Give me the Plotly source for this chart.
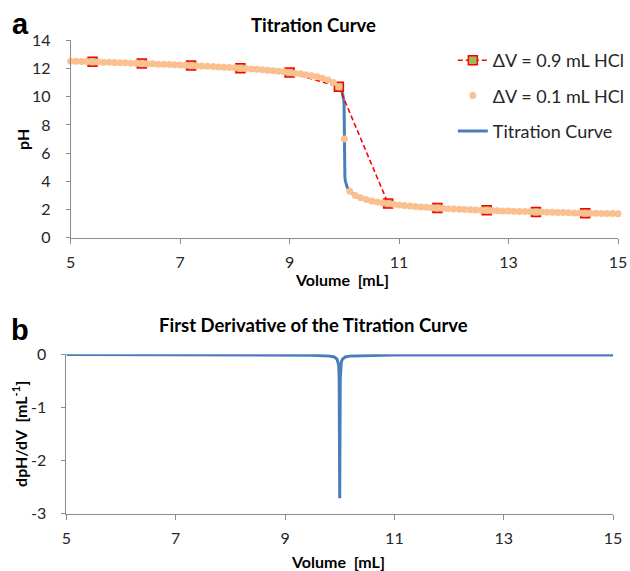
import plotly.graph_objects as go

# ---------------- data ----------------
vol_01 = [5.0, 5.1, 5.2, 5.3, 5.4, 5.5, 5.6, 5.7, 5.8, 5.9,
          6.0, 6.1, 6.2, 6.3, 6.4, 6.5, 6.6, 6.7, 6.8, 6.9,
          7.0, 7.1, 7.2, 7.3, 7.4, 7.5, 7.6, 7.7, 7.8, 7.9,
          8.0, 8.1, 8.2, 8.3, 8.4, 8.5, 8.6, 8.7, 8.8, 8.9,
          9.0, 9.1, 9.2, 9.3, 9.4, 9.5, 9.6, 9.7, 9.8, 9.9,
          10.0,
          10.1, 10.2, 10.3, 10.4, 10.5, 10.6, 10.7, 10.8, 10.9, 11.0,
          11.1, 11.2, 11.3, 11.4, 11.5, 11.6, 11.7, 11.8, 11.9, 12.0,
          12.1, 12.2, 12.3, 12.4, 12.5, 12.6, 12.7, 12.8, 12.9, 13.0,
          13.1, 13.2, 13.3, 13.4, 13.5, 13.6, 13.7, 13.8, 13.9, 14.0,
          14.1, 14.2, 14.3, 14.4, 14.5, 14.6, 14.7, 14.8, 14.9, 15.0]
ph_01 = [12.52, 12.51, 12.50, 12.49, 12.48, 12.46, 12.45, 12.44, 12.43, 12.41,
         12.40, 12.38, 12.37, 12.36, 12.34, 12.33, 12.31, 12.30, 12.28, 12.26,
         12.25, 12.23, 12.21, 12.19, 12.17, 12.16, 12.14, 12.11, 12.09, 12.07,
         12.05, 12.02, 12.00, 11.97, 11.94, 11.91, 11.88, 11.84, 11.81, 11.77,
         11.72, 11.67, 11.62, 11.56, 11.49, 11.41, 11.31, 11.18, 11.00, 10.70,
         7.00,
         3.30, 3.00, 2.83, 2.71, 2.61, 2.54, 2.47, 2.42, 2.37, 2.32,
         2.28, 2.25, 2.21, 2.18, 2.16, 2.13, 2.11, 2.08, 2.06, 2.04,
         2.02, 2.00, 1.99, 1.97, 1.95, 1.94, 1.93, 1.91, 1.90, 1.89,
         1.87, 1.86, 1.85, 1.84, 1.83, 1.82, 1.81, 1.80, 1.79, 1.78,
         1.77, 1.76, 1.75, 1.74, 1.74, 1.73, 1.72, 1.71, 1.71, 1.70]

vol_09 = [5.4, 6.3, 7.2, 8.1, 9.0, 9.9, 10.8, 11.7, 12.6, 13.5, 14.4]
ph_09 = [12.48, 12.36, 12.21, 12.02, 11.72, 10.70, 2.42, 2.11, 1.94, 1.83, 1.74]

vol_curve = [5.0, 6.0, 7.0, 8.0, 8.5, 9.0, 9.3, 9.5, 9.6, 9.7, 9.8, 9.85, 9.9,
             9.93, 9.95, 9.97, 9.98, 9.99, 9.995, 10.0, 10.005, 10.01, 10.02,
             10.03, 10.05, 10.07, 10.1, 10.15, 10.2, 10.3, 10.5, 10.8, 11.0,
             11.5, 12.0, 13.0, 14.0, 15.0]
ph_curve = [12.52, 12.40, 12.25, 12.05, 11.91, 11.72, 11.56, 11.41, 11.31, 11.18,
            11.00, 10.88, 10.70, 10.55, 10.40, 10.18, 10.00, 9.70, 9.40, 7.00,
            4.60, 4.30, 4.00, 3.82, 3.60, 3.46, 3.30, 3.13, 3.00, 2.83, 2.61,
            2.42, 2.32, 2.16, 2.04, 1.89, 1.78, 1.70]

vol_deriv = [5.0, 6.0, 7.0, 8.0, 9.0, 9.5, 9.8, 9.9, 9.95, 9.97, 9.98, 9.99,
             10.0, 10.01, 10.02, 10.03, 10.05, 10.1, 10.2, 10.5, 11.0, 12.0,
             13.0, 14.0, 15.0]
dph_deriv = [-0.005, -0.005, -0.005, -0.008, -0.012, -0.018, -0.03, -0.05, -0.09,
             -0.14, -0.2, -0.45, -2.71, -0.45, -0.2, -0.14, -0.09, -0.05, -0.03,
             -0.02, -0.015, -0.015, -0.015, -0.015, -0.015]

x_ticks = [5, 7, 9, 11, 13, 15]
y1_ticks = [0, 2, 4, 6, 8, 10, 12, 14]
y2_ticks = [0, -1, -2, -3]
y2_ticktext = ["0", "-1", "-2", "-3"]

# ---------------- styling ----------------
W, H = 630, 571
BLUE = "#4A7EBB"
ORANGE = "#FAC090"
RED = "#FF0000"
GREEN = "#9BBB59"
AXC = "#8C8C8C"
FONT = "Lato"


def px(x):
    return x / W


def py(y):
    return 1 - y / H


fig = go.Figure()

fig.add_trace(go.Scatter(x=vol_curve, y=ph_curve, mode="lines", name="Titration Curve",
                         line=dict(color=BLUE, width=3), legendrank=3,
                         legendgroup="c", xaxis="x", yaxis="y"))
fig.add_trace(go.Scatter(x=vol_09, y=ph_09, mode="lines+markers", name="ΔV = 0.9 mL HCl",
                         line=dict(color=RED, width=1.6, dash="5px,3px"),
                         marker=dict(symbol="square", size=9, color=GREEN,
                                     line=dict(color=RED, width=1.5)),
                         legendrank=1, legendgroup="a", cliponaxis=False,
                         xaxis="x", yaxis="y"))
fig.add_trace(go.Scatter(x=vol_01, y=ph_01, mode="markers", name="ΔV = 0.1 mL HCl",
                         marker=dict(color=ORANGE, size=7),
                         legendrank=2, legendgroup="b", cliponaxis=False,
                         xaxis="x", yaxis="y"))
fig.add_trace(go.Scatter(x=vol_deriv, y=dph_deriv, mode="lines", showlegend=False,
                         line=dict(color=BLUE, width=3), cliponaxis=False,
                         xaxis="x2", yaxis="y2"))

axis_common = dict(showline=True, linecolor=AXC, linewidth=1, ticks="outside",
                   tickcolor=AXC, showgrid=False, zeroline=False, automargin=False,
                   tickfont=dict(family=FONT, size=16, color="#262626"))

fig.update_layout(
    width=W, height=H, template="none",
    margin=dict(l=0, r=0, t=0, b=0),
    paper_bgcolor="white", plot_bgcolor="white",
    showlegend=True,
    xaxis=dict(domain=[px(71), px(621)], anchor="y", range=[5, 15], tickvals=x_ticks,
               ticklen=5, ticklabelstandoff=5, **axis_common),
    yaxis=dict(domain=[py(237.7), py(40.3)], anchor="x", range=[0, 14], tickvals=y1_ticks,
               ticklen=4, ticklabelstandoff=12, **axis_common),
    xaxis2=dict(domain=[px(66.7), px(616)], anchor="y2", range=[5, 15], tickvals=x_ticks,
                ticklen=5, ticklabelstandoff=5, **axis_common),
    yaxis2=dict(domain=[py(513.7), py(354.3)], anchor="x2", range=[-3, 0], tickvals=y2_ticks,
                ticktext=y2_ticktext, ticklen=4, ticklabelstandoff=12, **axis_common),
    legend=dict(x=px(455), y=py(42), xanchor="left", yanchor="top",
                font=dict(family=FONT, size=18, color="#262626"),
                bgcolor="rgba(0,0,0,0)", traceorder="grouped", tracegroupgap=9),
)

ann = []


def add_text(text, x, y, size, bold=True, family=FONT, angle=0):
    ann.append(dict(text=f"<b>{text}</b>" if bold else text, x=px(x), y=py(y),
                    xref="paper", yref="paper", showarrow=False, textangle=angle,
                    xanchor="center", yanchor="middle",
                    font=dict(family=family, size=size, color="black")))


add_text("Titration Curve", 314.5, 25, 18.5)
add_text("First Derivative of the Titration Curve", 314.5, 325, 18.5)
add_text("a", 20.5, 23.5, 29, family="Liberation Sans")
add_text("b", 20.5, 330, 29, family="Liberation Sans")
add_text("Volume  [mL]", 344, 279, 16)
add_text("Volume  [mL]", 340, 561.5, 16)
add_text("pH", 22, 139, 16, angle=-90)
add_text("dpH/dV  [mL<sup>-1</sup>]", 19, 434, 16, angle=-90)

fig.update_layout(annotations=ann)
fig.write_html("out.html")
